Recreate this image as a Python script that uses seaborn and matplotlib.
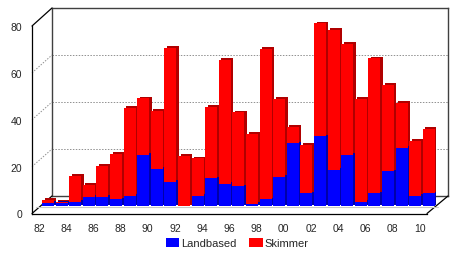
import matplotlib
matplotlib.use('Agg')
import matplotlib.pyplot as plt
from matplotlib.transforms import Affine2D
import seaborn as sns
import numpy as np

years = [str(y)[2:] for y in range(1982, 2011)]
landbased = [1.5, 1.5, 2, 4, 4, 3, 4.5, 22, 16, 10.5, 0, 4.5, 12, 9.5, 8.5, 1,
             3, 12.5, 27, 5.5, 30, 15.5, 22, 2, 5.5, 15, 25, 4.5, 5.5]
skimmer = [1.2, 0.4, 11, 5.3, 13.4, 19.4, 37.8, 24.3, 24.9, 57.5, 21.7, 16.1,
           30.5, 53.5, 31.8, 30, 64.5, 33.5, 7.2, 20.8, 48.5, 60.2, 47.6, 44,
           58, 37, 19.4, 23.5, 27.7]
total = [a + b for a, b in zip(landbased, skimmer)]

sns.set_style('white')
plt.rcParams['font.family'] = ['Liberation Sans', 'DejaVu Sans']

W, H = 465, 255
fig = plt.figure(figsize=(W / 100, H / 100), dpi=100)


def box(x0, y0, x1, y1):
    # pixel box (top-left origin) -> figure fraction rect
    return [x0 / W, 1 - y1 / H, (x1 - x0) / W, (y1 - y0) / H]


# back wall
ax_back = fig.add_axes(box(52, 9, 448, 197), zorder=0)
ax_back.set_ylim(0, 80)
ax_back.set_xlim(0, 1)
ax_back.set_yticks([20, 40, 60])
ax_back.set_xticks([])
ax_back.tick_params(left=False, labelleft=False)
ax_back.grid(axis='y', linestyle=(0, (1.5, 1.5)), color='#909090', lw=0.7)
for s in ax_back.spines.values():
    s.set_color('#404040')
    s.set_linewidth(1.0)

# frame lines (side wall + floor)
ax_frame = fig.add_axes([0, 0, 1, 1], zorder=0.5)
ax_frame.set_xlim(0, W)
ax_frame.set_ylim(H, 0)
ax_frame.axis('off')
ax_frame.patch.set_alpha(0)
fy0, fy80 = 214.5, 27
by0, by80 = 197, 9
ax_frame.plot([32, 52], [fy80, by80], color='black', lw=0.9)
ax_frame.plot([32, 52], [fy0, by0], color='black', lw=0.9)
ax_frame.plot([427, 448], [fy0, by0], color='black', lw=0.9)
ax_frame.plot([36, 438], [207.5, 207.5], color='#c8c8c8', lw=0.8)
for v in [20, 40, 60]:
    ax_frame.plot([32, 52], [fy0 + (fy80 - fy0) * v / 80, by0 + (by80 - by0) * v / 80],
                  color='#909090', lw=0.7, linestyle=(0, (1.5, 1.5)))

# bars
ax = fig.add_axes(box(41.2, 20.9, 435.6, 207.3), zorder=1)
ax.patch.set_alpha(0)
n0 = len(ax.patches)
sns.barplot(x=years, y=total, color='#b00000', saturation=1, width=0.88,
            linewidth=0, ax=ax)
sns.barplot(x=years, y=landbased, color='#0000a8', saturation=1, width=0.88,
            linewidth=0, ax=ax)
shift = Affine2D().translate(2.5, 1.8)
for p in ax.patches[n0:]:
    p.set_transform(ax.transData + shift)
    p.set_zorder(1)
sns.barplot(x=years, y=total, color='#ff0000', saturation=1, width=0.88,
            linewidth=0, ax=ax)
sns.barplot(x=years, y=landbased, color='#0000ff', saturation=1, width=0.88,
            linewidth=0, ax=ax)
ax.set_xlim(-0.5, len(years) - 0.5)
ax.set_ylim(0, 80)
ax.axis('off')

# front axis with labels
ax_f = fig.add_axes(box(32.2, fy80, 426.6, fy0), zorder=2)
ax_f.patch.set_alpha(0)
ax_f.set_xlim(-0.5, len(years) - 0.5)
ax_f.set_ylim(0, 80)
ax_f.set_yticks([0, 20, 40, 60, 80])
ax_f.set_xticks(range(0, len(years), 2))
ax_f.set_xticklabels(years[::2])
ax_f.tick_params(length=0, labelsize=7.5, pad=7)
sns.despine(ax=ax_f)
for s in ['left', 'bottom']:
    ax_f.spines[s].set_color('black')
    ax_f.spines[s].set_linewidth(0.9)

fig.legend(handles=[ax.containers[-1], ax.containers[-2]],
           labels=['Landbased', 'Skimmer'], loc='center',
           bbox_to_anchor=(237 / W, 1 - 244 / H), ncol=2, frameon=False,
           fontsize=8, handlelength=1.2, handleheight=0.9,
           handletextpad=0.15, columnspacing=1.2)

fig.savefig('out.png', dpi=100)
